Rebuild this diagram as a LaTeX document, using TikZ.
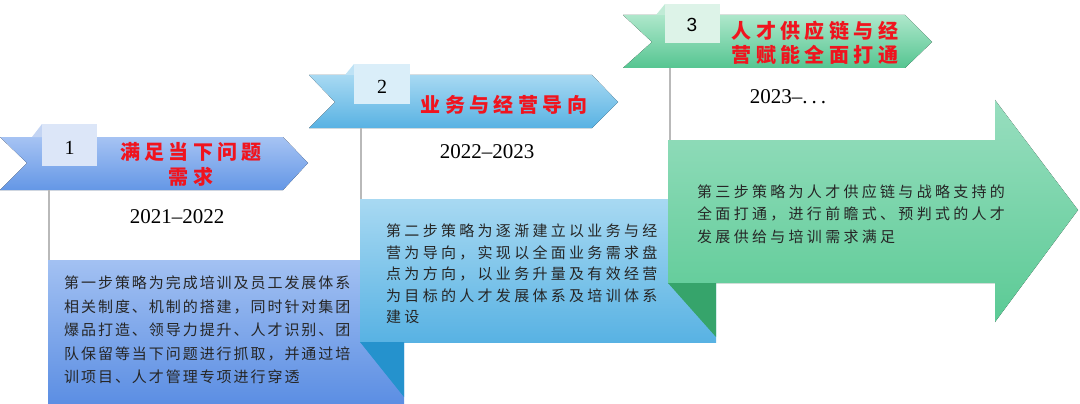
\documentclass[tikz,border=0pt]{standalone}
\usepackage{fontspec}
\usepackage{tikz}
\usetikzlibrary{calc,positioning}
\newfontfamily\cjk{Noto Sans CJK SC}
\newfontfamily\cjkone[LetterSpace=13]{Noto Sans CJK SC}
\newfontfamily\cjktwo[LetterSpace=22]{Noto Sans CJK SC}
\newfontfamily\cjktitle[LetterSpace=22]{Noto Sans CJK SC}
\newfontfamily\yearfont[Ligatures=TeX]{Liberation Serif}
\newfontfamily\numsans{Liberation Sans}
\definecolor{blueA}{HTML}{A6C3F3}
\definecolor{blueB}{HTML}{6497E6}
\definecolor{blueBoxA}{HTML}{A3C1F2}
\definecolor{blueBoxB}{HTML}{5B8EE3}
\definecolor{blueTab}{HTML}{DCE6F8}
\definecolor{blueFold}{HTML}{C3D4F3}
\definecolor{cyanA}{HTML}{A8D9F2}
\definecolor{cyanB}{HTML}{58B2E3}
\definecolor{cyanTab}{HTML}{DAEEF9}
\definecolor{cyanFold}{HTML}{BEE2F5}
\definecolor{cyanDark}{HTML}{2592CD}
\definecolor{greenA}{HTML}{AEE7CB}
\definecolor{greenB}{HTML}{55C591}
\definecolor{greenBoxA}{HTML}{98DEBF}
\definecolor{greenBoxB}{HTML}{5BCA95}
\definecolor{greenTab}{HTML}{DDF3E8}
\definecolor{greenFold}{HTML}{C0EBD6}
\definecolor{greenDark}{HTML}{36A46B}
\definecolor{titlered}{HTML}{F0141E}
\definecolor{bodytext}{HTML}{262626}
\tikzset{
  stem/.style={draw=gray!55, line width=1.5pt},
  numtext/.style={inner sep=0pt, font=\yearfont\fontsize{20}{20}\selectfont},
  yeartext/.style={inner sep=0pt, font=\yearfont\fontsize{21}{21}\selectfont},
  titletext/.style={inner sep=0pt, align=center, text=titlered, font=\cjktitle\bfseries\fontsize{20}{24.5}\selectfont},
  bodybox/.style={inner sep=0pt, anchor=west, align=left, text=bodytext}
}
\begin{document}
\begin{tikzpicture}[x=1pt,y=-1pt]
\useasboundingbox (0,0) rectangle (1080,404);

% step 1
\fill[top color=blueBoxA,bottom color=blueBoxB] (48,260) rectangle (404,404);
\fill[top color=blueA,bottom color=blueB] (0,137) -- (283,137) -- (308,163) -- (283,190) -- (0,190) -- (27,163) -- cycle;
\fill[blueFold] (32,137) -- (42,124) -- (42,137) -- cycle;
\fill[blueTab] (42,124) rectangle (97,166);
\node[numtext] (n1) at (69.5,148) {1};
\node[titletext] (h1) at (191,164.5) {满足当下问题\\需求};
\coordinate (s1top) at (49,190);
\coordinate (s1bot) at (49,260);
\draw[stem] (s1top) -- (s1bot);
\node[yeartext] (y1) at (177,217) {2021--2022};
\node[bodybox, font=\cjkone\fontsize{15}{23.5}\selectfont] (b1) at (64,330)
  {第一步策略为完成培训及员工发展体系\\相关制度、机制的搭建，同时针对集团\\爆品打造、领导力提升、人才识别、团\\队保留等当下问题进行抓取，并通过培\\训项目、人才管理专项进行穿透};

% step 2
\fill[top color=cyanA,bottom color=cyanB] (360,199) rectangle (716,342);
\fill[cyanDark] (360,342) -- (404,342) -- (404,397) -- cycle;
\fill[top color=cyanA,bottom color=cyanB] (309,75) -- (592,75) -- (618,102) -- (592,128) -- (309,128) -- (335,102) -- cycle;
\fill[cyanFold] (345,75) -- (354,64) -- (354,75) -- cycle;
\fill[cyanTab] (354,64) rectangle (410,104);
\node[numtext] (n2) at (382,87) {2};
\node[titletext] (h2) at (504,105) {业务与经营导向};
\coordinate (s2top) at (361,128);
\coordinate (s2bot) at (361,199);
\draw[stem] (s2top) -- (s2bot);
\node[yeartext] (y2) at (487,152) {2022--2023};
\node[bodybox, font=\cjktwo\fontsize{15}{21.5}\selectfont] (b2) at (386,274)
  {第二步策略为逐渐建立以业务与经\\营为导向，实现以全面业务需求盘\\点为方向，以业务升量及有效经营\\为目标的人才发展体系及培训体系\\建设};

% step 3
\fill[top color=greenBoxA,bottom color=greenBoxB] (668,140) -- (995,140) -- (995,100) -- (1078,210) -- (995,322) -- (995,283) -- (668,283) -- cycle;
\fill[greenDark] (668,283) -- (716,283) -- (716,337) -- cycle;
\fill[top color=greenA,bottom color=greenB] (623,15) -- (905,15) -- (932,42) -- (905,68) -- (623,68) -- (652,42) -- cycle;
\fill[greenFold] (656,15) -- (665,4) -- (665,15) -- cycle;
\fill[greenTab] (665,4) rectangle (720,43);
\node[numtext, font=\numsans\fontsize{19}{19}\selectfont] (n3) at (692,25) {3};
\node[titletext, font=\cjktitle\bfseries\fontsize{20}{24}\selectfont] (h3) at (815,43) {人才供应链与经\\营赋能全面打通};
\coordinate (s3top) at (670,68);
\coordinate (s3bot) at (670,140);
\draw[stem] (s3top) -- (s3bot);
\node[yeartext] (y3) at (788,97) {2023--.\hspace{4pt}.\hspace{4pt}.};
\node[bodybox, font=\cjktwo\fontsize{15}{22.5}\selectfont] (b3) at (697,214)
  {第三步策略为人才供应链与战略支持的\\全面打通，进行前瞻式、预判式的人才\\发展供给与培训需求满足};
\end{tikzpicture}
\end{document}
